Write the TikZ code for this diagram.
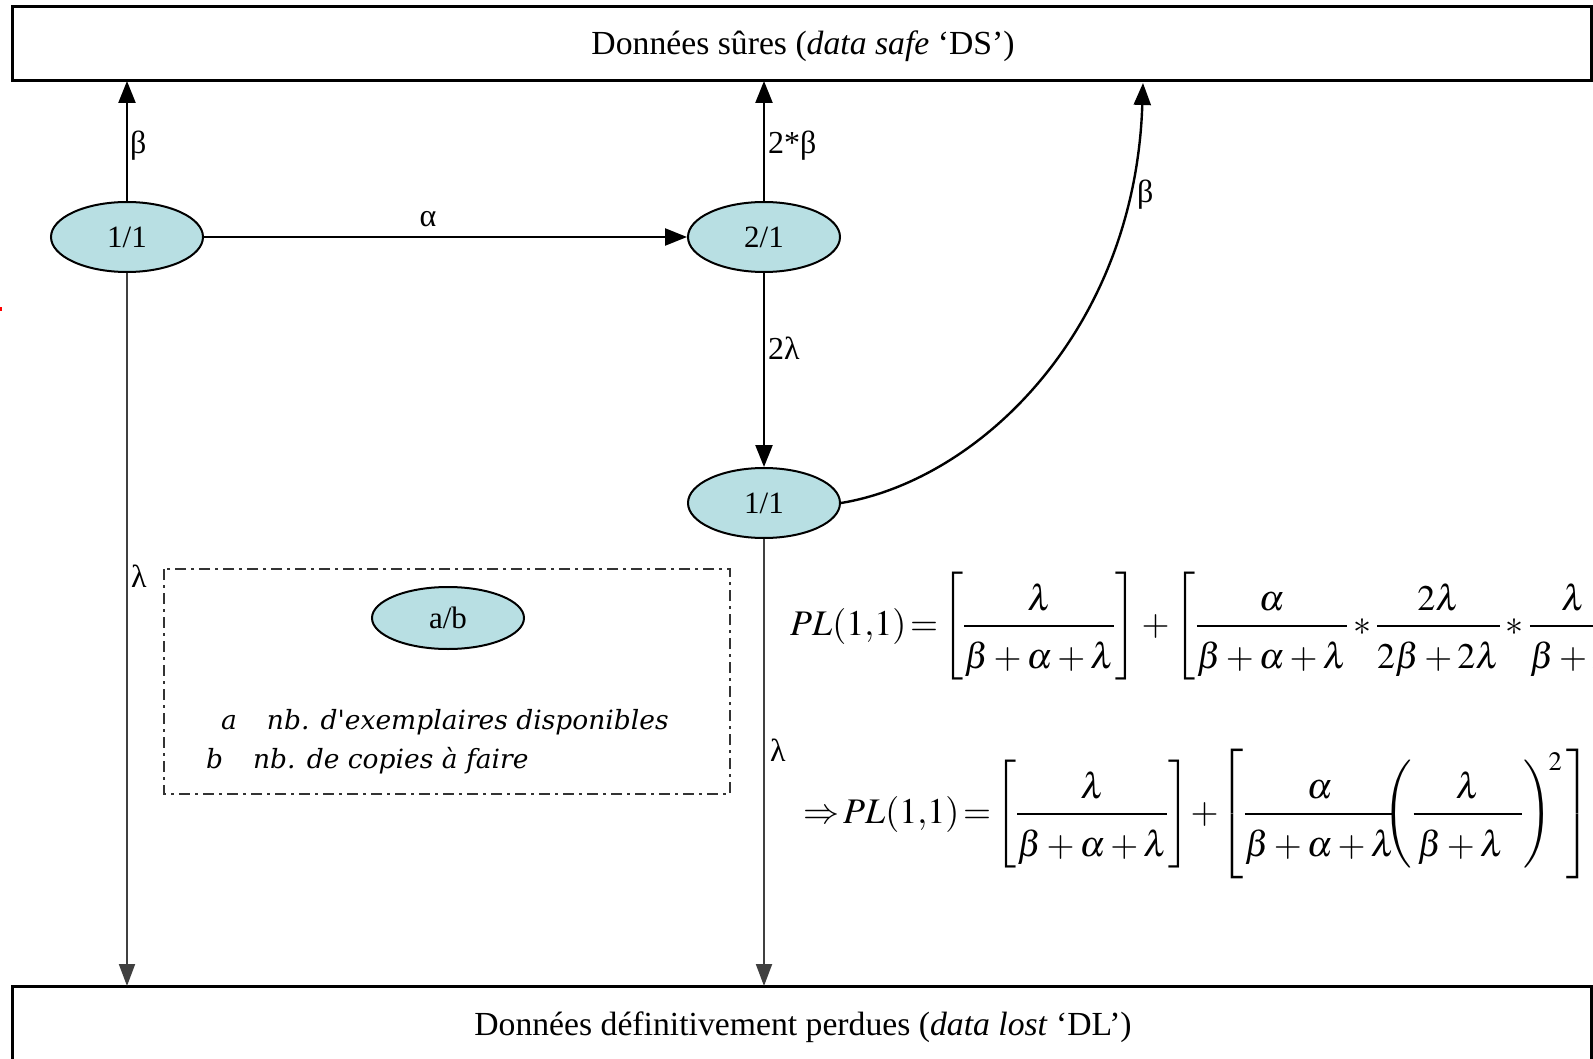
\documentclass[tikz,border=0pt]{standalone}
\usepackage{amsmath}
\usepackage{mathptmx}
\usepackage{fontspec}
\setmainfont{Liberation Serif}
\newfontfamily\legfont{DejaVu Serif}
\usetikzlibrary{shapes.geometric,arrows.meta}
\definecolor{nodefill}{RGB}{184,223,227}
\newcommand\myfr[2]{\dfrac{\rule[-5pt]{0pt}{0pt}#1}{\rule{0pt}{37pt}#2}}
\tikzset{
  x=1pt,y=-1pt,
  state/.style={ellipse,draw=black,line width=2pt,fill=nodefill,minimum width=152pt,minimum height=70pt,inner sep=0pt,font=\fontsize{31}{34}\selectfont},
  bigbox/.style={draw=black,line width=3pt},
  arr/.style={line width=2.4pt,-{Triangle[length=22pt,width=17pt]}},
  garr/.style={line width=2pt,draw=black!75,-{Triangle[length=22pt,width=16pt]}},
  lbl/.style={font=\fontsize{32}{34}\selectfont,inner sep=0pt},
  boxtext/.style={font=\fontsize{33.7}{38}\selectfont,inner sep=0pt},
  legendbox/.style={draw=black!80,line width=2.4pt,dash pattern=on 11pt off 5pt on 3pt off 5pt},
  legtext/.style={anchor=west,inner sep=0pt,font=\legfont\itshape\fontsize{26.5}{30}\selectfont},
  formula/.style={font=\fontsize{36}{42}\selectfont,inner sep=0pt,anchor=west}
}
\begin{document}
\begin{tikzpicture}
\useasboundingbox (0,0) rectangle (1593,1059);
\clip (0,0) rectangle (1593,1059);
\fill[white] (0,0) rectangle (1593,1059);
% boxes
\draw[bigbox] (12,7) rectangle (1591,81);
\node[boxtext] (ds) at (803,46) {Données sûres (\textit{data safe} ‘DS’)};
\draw[bigbox] (12,986) rectangle (1591,1070);
\node[boxtext] (dl) at (803,1027) {Données définitivement perdues (\textit{data lost} ‘DL’)};
\coordinate (topA) at (127,81);
\coordinate (topB) at (764,81);
\coordinate (topC) at (1143,83);
\coordinate (botA) at (127,986);
\coordinate (botC) at (764,986);
% states
\node[state] (A) at (127,237) {1/1};
\node[state] (B) at (764,237) {2/1};
\node[state] (C) at (764,503) {1/1};
% connectors
\draw[arr] (A.north) -- (topA);
\node[lbl,anchor=west] (lb1) at (130,146) {β};
\draw[arr] (B.north) -- (topB);
\node[lbl,anchor=west] (lb2) at (768,146) {2*β};
\draw[arr] (A.east) -- (B.west);
\node[lbl] (la) at (428,219) {α};
\draw[arr] (B.south) -- (C.north);
\node[lbl,anchor=west] (l2l) at (768,348) {2λ};
\draw[arr] (C.east) .. controls (980,480) and (1135,330) .. (topC);
\node[lbl,anchor=west] (lb3) at (1137,195) {β};
\draw[garr] (A.south) -- (botA);
\node[lbl,anchor=west] (ll1) at (131,576) {λ};
\draw[garr] (C.south) -- (botC);
\node[lbl,anchor=west] (ll2) at (770,750) {λ};
% legend
\draw[legendbox] (164,569) rectangle (730,794);
\node[state,minimum height=62pt] (D) at (448,618) {a/b};
\node[legtext] (leg1) at (221,722) {a\hspace{30pt}nb. d'exemplaires disponibles};
\node[legtext] (leg2) at (206,761) {b\hspace{30pt}nb. de copies à faire};
% formulas
\node[formula] (f1) at (790,626) {$\thickmuskip=2mu PL(1{,}1)=\left[\myfr{\lambda}{\beta+\alpha+\lambda}\right]+\left[\myfr{\alpha}{\beta+\alpha+\lambda}*\myfr{2\lambda}{2\beta+2\lambda}*\myfr{\lambda}{\beta+\lambda}\right]$};
\node[formula] (f2) at (803,814) {$\thickmuskip=2mu \Rightarrow PL(1{,}1)=\left[\myfr{\lambda}{\beta+\alpha+\lambda}\right]\mkern-2mu+\mkern-2mu\left[\myfr{\alpha}{\beta+\alpha+\lambda}\mkern-8mu\left(\myfr{\lambda}{\hspace{4pt}\beta+\lambda\hspace{18pt}}\right)^{\!2}\,\right]$};
% red mark at left edge
\fill[red] (0,307) rectangle (2,311);
\end{tikzpicture}
\end{document}
